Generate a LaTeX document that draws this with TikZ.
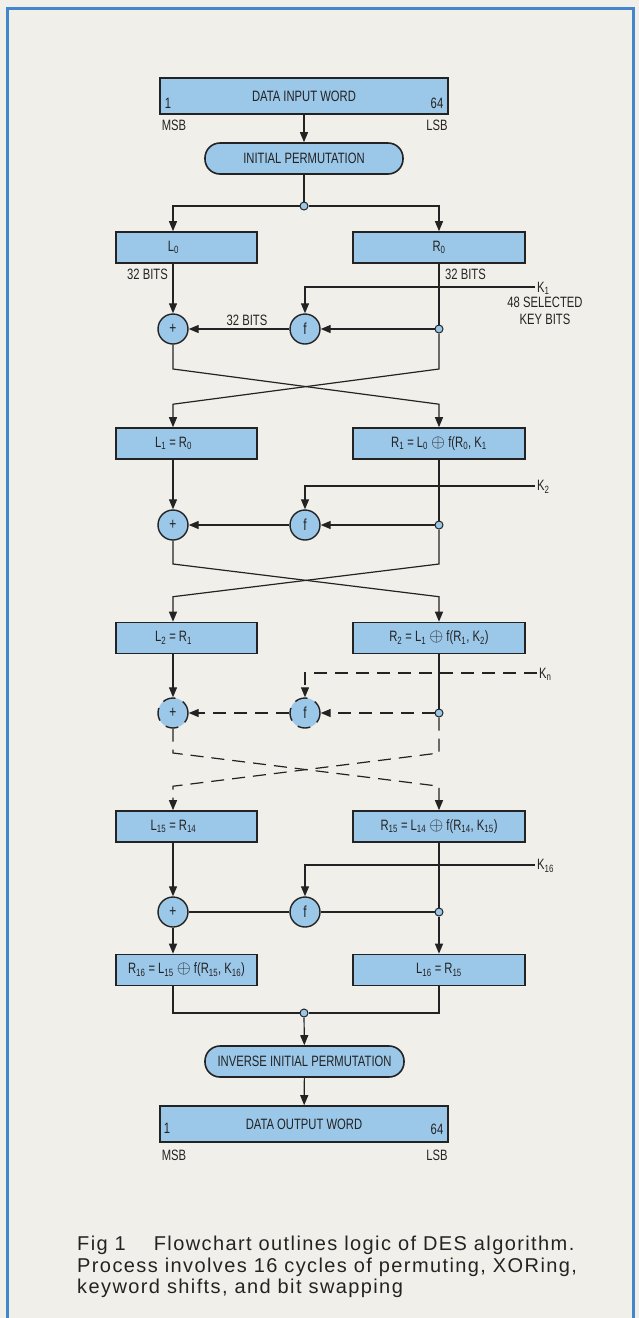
\documentclass[tikz,border=0pt]{standalone}
\usepackage{fontspec}
\setmainfont{Liberation Sans}
\newfontfamily\condfont[FakeStretch=0.75]{Liberation Sans}
\newfontfamily\capfont[LetterSpace=7]{Liberation Sans}
\usepackage{xcolor}
\usepackage{graphicx}
\usepackage{tikz}
\usetikzlibrary{arrows.meta,positioning,calc}
\definecolor{paper}{RGB}{241,239,233}
\definecolor{boxfill}{RGB}{155,199,233}
\definecolor{frameblue}{RGB}{66,135,205}
\definecolor{ink}{RGB}{35,35,35}
\newcommand{\idx}[1]{\textsubscript{#1}}
\newcommand{\xor}{\scalebox{1.25}{$\oplus$}}
% text of a left box sits over the left wire, not in the middle of the box
\newcommand{\leftlabel}[1]{\makebox[0pt]{#1}\kern26pt}

\begin{document}
\begin{tikzpicture}[x=1pt,y=-1pt,
    box/.style={draw=ink,line width=1.6pt,fill=boxfill,minimum height=31pt,inner sep=0pt,text=ink,font=\condfont\fontsize{15}{18}\selectfont},
    lbox/.style={box,minimum width=141pt},
    rbox/.style={box,minimum width=172pt},
    wordbox/.style={box,minimum width=288pt,minimum height=36pt},
    perm/.style={box,rounded corners=15pt},
    op/.style={circle,draw=ink,line width=1.4pt,fill=boxfill,minimum size=30pt,inner sep=0pt,text=ink,font=\condfont\fontsize{16}{18}\selectfont},
    dot/.style={circle,draw=ink,line width=1pt,fill=boxfill,minimum size=8pt,inner sep=0pt},
    wire/.style={draw=ink,line width=1.2pt},
    arr/.style={wire,-{Triangle[length=10pt,width=8pt]}},
    gap/.style={dash pattern=on 13pt off 8pt},
    lbl/.style={font=\condfont\fontsize{15}{17}\selectfont,text=ink,inner sep=0pt}
  ]
  % page and frame
  \path[use as bounding box,fill=paper] (0,0) rectangle (639,1318);
  \draw[frameblue,line width=3pt] (7,1318) -- (7,8) -- (633,8) -- (633,1318);

  % input word and initial permutation
  \node[wordbox] (in) at (304,96) {DATA INPUT WORD};
  \node[lbl] (in1) at (168,103) {1};
  \node[lbl] (in64) at (437,103) {64};
  \node[lbl] (inmsb) at (174,125) {MSB};
  \node[lbl] (inlsb) at (437,125) {LSB};
  \node[perm,minimum width=198pt] (ip) at (304,158.5) {INITIAL PERMUTATION};
  \node[dot] (j0) at (304,206) {};
  \draw[arr] (in) -- (ip);
  \draw[wire] (ip) -- (j0);

  % cycle 1
  \node[lbox] (L0) at (186.5,247.5) {\leftlabel{L\idx{0}}};
  \node[rbox] (R0) at (439,247.5) {R\idx{0}};
  \node[op] (x0) at (173,329) {+};
  \node[op] (f0) at (305,329) {f};
  \node[dot] (d0) at (439,329) {};
  \coordinate (k0) at (535,287);
  \node[lbl,anchor=west] (k0l) at (537,288) {K\idx{1}};
  \node[lbl,align=center] (k0t) at (545,310.5) {48 SELECTED\\KEY BITS};
  \node[lbl,anchor=east] (b0l) at (168,274) {32 BITS};
  \node[lbl,anchor=west] (b0r) at (445,274) {32 BITS};
  \node[lbl] (b0m) at (247,320) {32 BITS};
  \draw[arr] (j0) -| (L0.north -| x0);
  \draw[arr] (j0) -| (R0);
  \draw[arr] (L0.south -| x0) -- (x0);
  \draw[wire] (R0) -- (d0);
  \draw[arr] (d0) -- (f0);
  \draw[arr] (f0) -- (x0);
  \draw[arr] (k0) -| (f0);

  % cycle 2
  \node[lbox] (L1) at (186.5,443.5) {\leftlabel{L\idx{1} = R\idx{0}}};
  \node[rbox] (R1) at (439,443.5) {R\idx{1} = L\idx{0} \xor{} f(R\idx{0}, K\idx{1}};
  \node[op] (x1) at (173,525) {+};
  \node[op] (f1) at (305,525) {f};
  \node[dot] (d1) at (439,525) {};
  \coordinate (k1) at (535,486);
  \node[lbl,anchor=west] (k1l) at (537,487) {K\idx{2}};
  \draw[arr] (x0) -- ++(0,40) -- ([yshift=23pt]R1.north) -- (R1.north);
  \draw[arr] (d0) -- ++(0,40) -- ([yshift=23pt]L1.north -| x0) -- (L1.north -| x0);
  \draw[arr] (L1.south -| x1) -- (x1);
  \draw[wire] (R1) -- (d1);
  \draw[arr] (d1) -- (f1);
  \draw[arr] (f1) -- (x1);
  \draw[arr] (k1) -| (f1);

  % cycles 3 to 14 (dashed)
  \node[lbox] (L2) at (186.5,638) {\leftlabel{L\idx{2} = R\idx{1}}};
  \node[rbox] (R2) at (439,638) {R\idx{2} = L\idx{1} \xor{} f(R\idx{1}, K\idx{2})};
  \node[op,gap] (x2) at (173,713) {+};
  \node[op,gap] (f2) at (305,713) {f};
  \node[dot] (d2) at (439,713) {};
  \coordinate (k2) at (537,673);
  \node[lbl,anchor=west] (k2l) at (539,674) {K\idx{n}};
  \draw[arr] (x1) -- ++(0,39) -- ([yshift=25pt]R2.north) -- (R2.north);
  \draw[arr] (d1) -- ++(0,39) -- ([yshift=25pt]L2.north -| x1) -- (L2.north -| x1);
  \draw[arr] (L2.south -| x2) -- (x2);
  \draw[wire] (R2) -- (d2);
  \draw[arr,gap] (d2) -- (f2);
  \draw[arr,gap] (f2) -- (x2);
  \draw[arr,gap] (k2) -| (f2);

  % cycle 16
  \node[lbox] (L15) at (186.5,826.5) {\leftlabel{L\idx{15} = R\idx{14}}};
  \node[rbox] (R15) at (439,826.5) {R\idx{15} = L\idx{14} \xor{} f(R\idx{14}, K\idx{15})};
  \node[op] (x15) at (173,912) {+};
  \node[op] (f15) at (305,912) {f};
  \node[dot] (d15) at (439,912) {};
  \coordinate (k15) at (535,865);
  \node[lbl,anchor=west] (k15l) at (537,866) {K\idx{16}};
  \draw[arr,gap] (x2) -- ++(0,40) -- ([yshift=24pt]R15.north) -- (R15.north);
  \draw[arr,gap] (d2) -- ++(0,40) -- ([yshift=24pt]L15.north -| x2) -- (L15.north -| x2);
  \draw[arr] (L15.south -| x15) -- (x15);
  \draw[wire] (R15) -- (d15);
  \draw[wire] (d15) -- (f15);
  \draw[wire] (f15) -- (x15);
  \draw[arr] (k15) -| (f15);

  % output
  \node[lbox] (R16) at (186.5,970) {R\idx{16} = L\idx{15} \xor{} f(R\idx{15}, K\idx{16})};
  \node[rbox] (L16) at (439,970) {L\idx{16} = R\idx{15}};
  \node[dot] (jf) at (304,1013) {};
  \node[perm,minimum width=199pt] (iip) at (304.5,1061.5) {INVERSE INITIAL PERMUTATION};
  \node[wordbox] (out) at (304,1124) {DATA OUTPUT WORD};
  \node[lbl] (out1) at (167,1128) {1};
  \node[lbl] (out64) at (437,1129) {64};
  \node[lbl] (outmsb) at (174,1155) {MSB};
  \node[lbl] (outlsb) at (437,1155) {LSB};
  \draw[arr] (x15) -- (R16.north -| x15);
  \draw[arr] (d15) -- (L16);
  \draw[wire] (R16.south -| x15) |- (jf);
  \draw[wire] (L16) |- (jf);
  \draw[arr] (jf) -- (iip);
  \draw[arr] (iip) -- (out);

  % caption
  \node[anchor=north west,align=left,inner sep=0pt,text=ink,font=\capfont\fontsize{20}{21.5}\selectfont] (cap) at (77,1236)
    {Fig 1\hspace{28pt}Flowchart outlines logic of DES algorithm.\\Process involves 16 cycles of permuting, XORing,\\keyword shifts, and bit swapping};
\end{tikzpicture}
\end{document}
